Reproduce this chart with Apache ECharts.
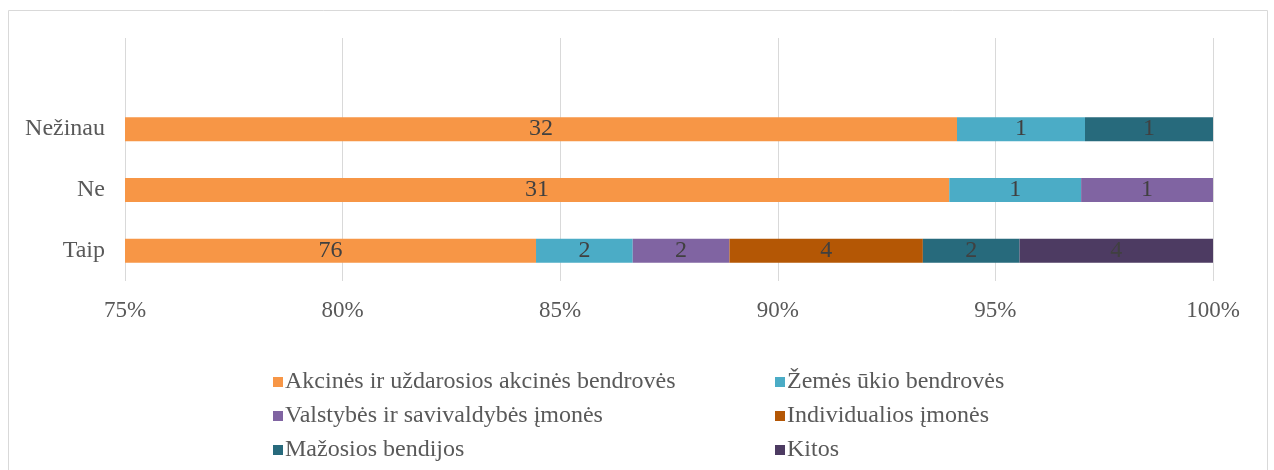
<!DOCTYPE html>
<html>
<head>
<meta charset="utf-8">
<script src="https://cdn.jsdelivr.net/npm/echarts@6/dist/echarts.min.js"></script>
<style>
  html, body { margin: 0; padding: 0; background: #fff; }
  #chart { width: 1274px; height: 470px; }
</style>
</head>
<body>
<div id="chart"></div>
<script>
  // atsakymai (kategorijos), paskutinė tuščia kaip originale
  var categories = ['Taip', 'Ne', 'Nežinau', ''];
  var seriesNames = [
    'Akcinės ir uždarosios akcinės bendrovės',
    'Žemės ūkio bendrovės',
    'Valstybės ir savivaldybės įmonės',
    'Individualios įmonės',
    'Mažosios bendijos',
    'Kitos'
  ];
  var akcines = [76, 31, 32];
  var zemes = [2, 1, 1];
  var valstybes = [2, 1, 0];
  var individualios = [4, 0, 0];
  var mazosios = [2, 0, 1];
  var kitos = [4, 0, 0];
  var xTicks = [0.75, 1];

  var counts = [akcines, zemes, valstybes, individualios, mazosios, kitos];
  var colors = ['#F79646', '#4BACC6', '#8064A2', '#B45705', '#276A7C', '#4D3B62'];

  // sumos kiekvienai kategorijai
  var totals = [];
  for (var c = 0; c < 3; c++) {
    var s = 0;
    counts.forEach(function (arr) { s += arr[c]; });
    totals.push(s);
  }

  var font = '"Liberation Serif", "Times New Roman", serif';

  var series = counts.map(function (arr, i) {
    return {
      name: seriesNames[i],
      type: 'bar',
      stack: 'total',
      barWidth: 24,
      clip: true,
      itemStyle: { color: colors[i] },
      label: {
        show: true,
        position: 'inside',
        color: '#404040',
        fontFamily: font,
        fontSize: 24,
        formatter: function (p) { return p.data.count ? String(p.data.count) : ''; }
      },
      data: arr.map(function (v, k) {
        return { value: v / totals[k], count: v };
      })
    };
  });

  var legendItem = function (name) { return { name: name, icon: 'rect' }; };

  var myChart = echarts.init(document.getElementById('chart'));
  var option = {
    animation: false,
    graphic: [{
      type: 'rect',
      shape: { x: 8.5, y: 10.5, width: 1259, height: 470 },
      style: { fill: 'none', stroke: '#d9d9d9', lineWidth: 1 },
      silent: true
    }],
    grid: { left: 125, right: 61, top: 38, height: 243, containLabel: false },
    legend: [
      {
        left: 268, top: 365, orient: 'vertical', itemGap: 10,
        itemWidth: 10, itemHeight: 10,
        textStyle: { fontFamily: font, fontSize: 24, color: '#595959', padding: [0, 0, 0, -3] },
        data: [seriesNames[0], seriesNames[2], seriesNames[4]].map(legendItem)
      },
      {
        left: 770, top: 365, orient: 'vertical', itemGap: 10,
        itemWidth: 10, itemHeight: 10,
        textStyle: { fontFamily: font, fontSize: 24, color: '#595959', padding: [0, 0, 0, -3] },
        data: [seriesNames[1], seriesNames[3], seriesNames[5]].map(legendItem)
      }
    ],
    xAxis: {
      type: 'value',
      min: xTicks[0],
      max: xTicks[1],
      interval: 0.05,
      axisLine: { show: false },
      axisTick: { show: false },
      splitLine: { lineStyle: { color: '#d9d9d9', width: 1 } },
      axisLabel: {
        margin: 18,
        fontFamily: font,
        fontSize: 23,
        color: '#595959',
        formatter: function (v) { return Math.round(v * 100) + '%'; }
      }
    },
    yAxis: {
      type: 'category',
      data: categories,
      axisLine: { show: false },
      axisTick: { show: false },
      axisLabel: { margin: 20, fontFamily: font, fontSize: 24, color: '#595959' }
    },
    series: series
  };
  myChart.setOption(option);
</script>
</body>
</html>
